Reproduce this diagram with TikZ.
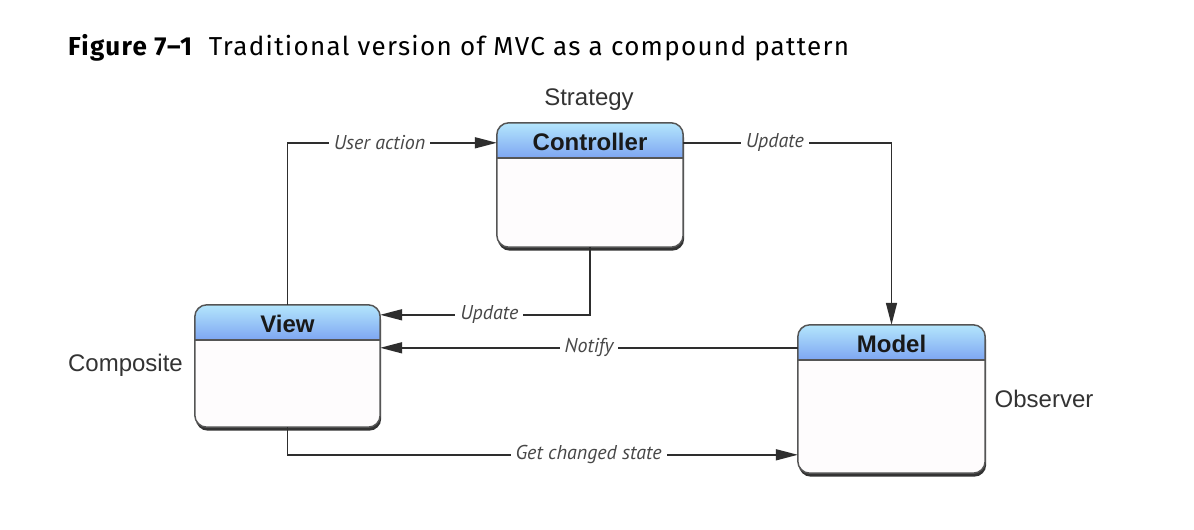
\documentclass[tikz,border=0pt]{standalone}
\usepackage{fontspec}
\setmainfont{Liberation Sans}
\newfontfamily\titlefont[LetterSpace=5]{Fira Sans}
\newfontfamily\labfont{PT Sans}
\usetikzlibrary{arrows.meta,calc}
\definecolor{hdtop}{HTML}{B4E6FC}
\definecolor{hdbot}{HTML}{7EA6F2}
\definecolor{bodyc}{HTML}{FEFCFD}
\definecolor{edgec}{HTML}{2E2E2E}
\definecolor{bordc}{HTML}{555555}
\tikzset{
  boxnode/.style={draw=none, inner sep=0pt, minimum width=#1},
  conn/.style={draw=edgec, line width=1.6pt},
  arr/.style={conn, -{Triangle[length=22pt,width=11pt]}},
  lab/.style={fill=white, inner sep=5pt, text=black!72, font=\labfont\itshape\fontsize{20}{24}\selectfont},
  side/.style={font=\fontsize{24}{28}\selectfont, text=black!80},
  hdtext/.style={font=\bfseries\fontsize{24}{28}\selectfont, text=black!90}
}
\newcommand\mvcbox[6]{% name, cx, cy, w, h, title
  \node[boxnode=#4pt, minimum height=#5pt] (#1) at (#2,#3) {};
  \fill[black!80, rounded corners=12pt] ($(#1.north west)+(1,3.5)$) rectangle ($(#1.south east)+(1,3.5)$);
  \fill[bodyc, rounded corners=12pt] (#1.north west) rectangle (#1.south east);
  \begin{scope}
    \clip[rounded corners=12pt] (#1.north west) rectangle (#1.south east);
    \shade[top color=hdtop, bottom color=hdbot] (#1.north west) rectangle ($(#1.north east)+(0,35)$);
  \end{scope}
  \draw[bordc, line width=1.5pt] ($(#1.north west)+(0,35)$) -- ($(#1.north east)+(0,35)$);
  \draw[bordc, line width=1.5pt, rounded corners=12pt] (#1.north west) rectangle (#1.south east);
  \node[hdtext] at ($(#1.north)+(0,19)$) {#6};
}
\begin{document}
\begin{tikzpicture}[x=1pt,y=-1pt]
\useasboundingbox[fill=white] (0,0) rectangle (1194,530);
\node[anchor=west, inner sep=0pt, font=\titlefont\fontsize{26}{30}\selectfont] (title) at (68,48) {\textbf{Figure 7–1}\hspace{0.6em}Traditional version of MVC as a compound pattern};

\mvcbox{ctrl}{590}{185}{186}{124}{Controller}
\mvcbox{view}{287.5}{366}{185}{122}{View}
\mvcbox{model}{891.5}{399}{187}{148}{Model}

\node[side] (strat) at (589,100) {Strategy};
\node[side] (comp) at (125.5,365) {Composite};
\node[side] (obs) at (1044,399) {Observer};

\coordinate (cin) at ($(ctrl.north west)+(0,20)$);
\coordinate (cout) at ($(ctrl.north east)+(0,20)$);
\coordinate (vin1) at ($(view.north east)+(0,10)$);
\coordinate (vin2) at ($(view.north east)+(0,43)$);
\coordinate (mout) at ($(model.north west)+(0,23)$);
\coordinate (min) at ($(model.north west)+(0,130)$);

\draw[arr] (view.north) |- node[lab, pos=0.72] {User action} (cin);
\draw[arr] (cout) -| node[lab, pos=0.22] {Update} (model.north);
\draw[arr] (ctrl.south) |- node[lab, pos=0.74] {Update} (vin1);
\draw[arr] (mout) -- node[lab, pos=0.5] {Notify} (vin2);
\draw[arr] (view.south) |- node[lab, pos=0.795] {Get changed state} (min);
\end{tikzpicture}
\end{document}
